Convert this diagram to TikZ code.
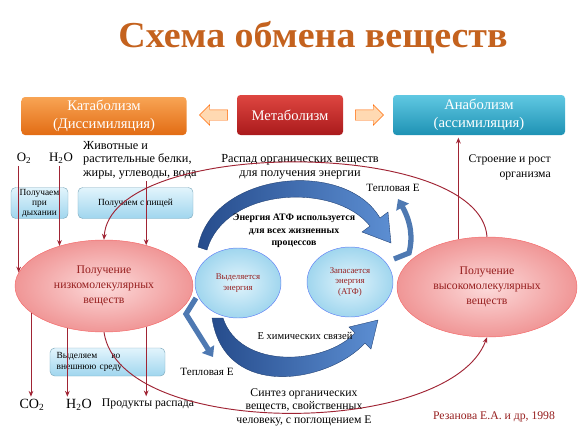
\documentclass[tikz,border=0pt]{standalone}
\usepackage{fontspec}
\setmainfont{Liberation Serif}
\usepackage{tikz}
\usetikzlibrary{shapes.geometric,shapes.arrows,arrows.meta,positioning}
\definecolor{titleor}{RGB}{196,98,30}
\definecolor{katlo}{RGB}{226,108,20}
\definecolor{kathi}{RGB}{248,164,84}
\definecolor{metlo}{RGB}{170,26,28}
\definecolor{methi}{RGB}{222,70,64}
\definecolor{analo}{RGB}{30,146,180}
\definecolor{anahi}{RGB}{96,200,226}
\definecolor{linered}{RGB}{160,36,52}
\definecolor{txtred}{RGB}{150,30,30}
\definecolor{pinkin}{RGB}{252,218,218}
\definecolor{pinkout}{RGB}{240,150,150}
\definecolor{skyin}{RGB}{226,244,252}
\definecolor{skyout}{RGB}{160,214,238}
\definecolor{arcdark}{RGB}{38,76,140}
\definecolor{arclight}{RGB}{92,142,210}

\begin{document}
\begin{tikzpicture}[x=0.03cm,y=-0.03cm,
	topbox/.style={rectangle,rounded corners=3pt,text=white,align=center,font=\fontsize{12.5}{15.5}\selectfont,inner sep=0pt},
	smallbox/.style={rectangle,rounded corners=4pt,draw=skyout!80!black,top color=skyin,bottom color=skyout,align=center,font=\fontsize{8}{8.6}\selectfont,minimum height=0.93cm,inner sep=1pt},
	bigell/.style={ellipse,draw=pinkout!70!red,inner color=pinkin,outer color=pinkout,text=txtred,align=center,font=\fontsize{10}{12.5}\selectfont,inner sep=0pt},
	smallell/.style={ellipse,draw=skyout!60!blue,inner color=skyin,outer color=skyout,text=txtred,align=center,font=\fontsize{7.5}{9}\selectfont,minimum width=2.58cm,minimum height=2.1cm,inner sep=0pt},
	blockarr/.style={single arrow,draw=orange!80!red,fill=orange!30,minimum height=0.84cm,minimum width=0.6cm,single arrow head extend=0.15cm,inner xsep=0pt,inner ysep=0.15cm},
	lbl/.style={font=\fontsize{10}{12}\selectfont,align=center,inner sep=0pt},
	chem/.style={font=\fontsize{11}{13}\selectfont,inner sep=0pt},
	redarr/.style={draw=linered,line width=0.8pt,-{Stealth[length=5pt,width=4pt]}},
	bluearc/.style={left color=arcdark,right color=arclight,draw=arcdark!80!black,line width=0.3pt},
	hookarr/.style={draw=arclight!85!black,line width=4.5pt,-{Triangle[length=8pt,width=12pt]}}
	]
	\useasboundingbox (0,0) rectangle (585,439);
	% title and the three top boxes
	\node[font=\fontsize{30}{34}\selectfont\bfseries,text=titleor,xscale=1.08,yscale=1.04] (title) at (313,38) {Схема обмена веществ};
	\node[topbox,top color=kathi,bottom color=katlo,minimum width=4.95cm,minimum height=1.14cm] (kat) at (104,116) {Катаболизм\\(Диссимиляция)};
	\node[topbox,top color=methi,bottom color=metlo,minimum width=3.18cm,minimum height=1.2cm] (met) at (290,115) {Метаболизм};
	\node[topbox,top color=anahi,bottom color=analo,minimum width=5.16cm,minimum height=1.2cm] (ana) at (479,115) {Анаболизм\\(ассимиляция)};
	\node[blockarr,shape border rotate=180,left=0.27cm of met] (larr) {};
	\node[blockarr,right=0.36cm of met] (rarr) {};
	% small boxes
	\node[smallbox,minimum width=1.71cm] (breath) at (39.5,203) {Получаем\\при\\дыхании};
	\node[smallbox,minimum width=3.45cm] (food) at (135.5,203) {Получаем с пищей};
	\node[smallbox,minimum width=3.45cm,minimum height=0.84cm,align=left,text width=3.05cm,inner xsep=0.2cm,font=\fontsize{8}{9.5}\selectfont] (out) at (107.5,362) {Выделяем\hspace{1.5em}во\\внешнюю среду};
	% blue arcs
	\path[bluearc] (198,247) .. controls (212,172) and (345,158) .. (380,218) -- (388,212) -- (391,243) -- (362,232) -- (370,226) .. controls (335,182) and (225,187) .. (207,250) -- cycle;
	\path[bluearc] (212,318) .. controls (225,402) and (330,382) .. (365,343) -- (371,349) -- (378,320) -- (349,327) -- (355,333) .. controls (325,365) and (240,370) .. (223,318) -- cycle;
	\draw[hookarr] (394,259) -- (409,253) .. controls (413,238) and (411,222) .. (398,199);
	\draw[hookarr] (196,298) -- (186,314) -- (213,357);
	% ellipses
	\node[bigell,minimum width=5.34cm,minimum height=2.76cm] (lowE) at (104,286) {Получение\\низкомолекулярных\\веществ};
	\node[bigell,minimum width=5.4cm,minimum height=3cm] (hiE) at (487,287) {Получение\\высокомолекулярных\\веществ};
	\node[smallell] (relE) at (238,283) {Выделяется\\энергия};
	\node[smallell] (stoE) at (350,282) {Запасается\\энергия\\(АТФ)};
	% texts
	\node[chem] (otwo) at (24,158) {O\textsubscript{2}};
	\node[chem] (htwoo) at (61,158) {H\textsubscript{2}O};
	\node[lbl,font=\fontsize{10.5}{11.5}\selectfont,align=left,anchor=north west] (foodtxt) at (83,141) {Животные и\\растительные белки,\\жиры, углеводы, вода};
	\node[lbl,font=\fontsize{10.5}{12}\selectfont] (decay) at (300,167) {Распад органических веществ\\для получения энергии};
	\node[lbl,align=right,anchor=north east] (grow) at (551,155) {Строение и рост\\организма};
	\node[lbl,font=\fontsize{9.5}{11}\selectfont] (heattop) at (393,188) {Тепловая Е};
	\node[lbl,font=\fontsize{8.4}{10.5}\selectfont\bfseries] (atp) at (294,231) {Энергия АТФ используется\\для всех жизненных\\процессов};
	\node[lbl,font=\fontsize{9}{11}\selectfont] (chembond) at (305,336) {Е химических связей};
	\node[lbl,font=\fontsize{9.5}{11}\selectfont] (heatbot) at (207,372) {Тепловая Е};
	\node[chem,font=\fontsize{12}{14}\selectfont] (cotwo) at (32,405) {CO\textsubscript{2}};
	\node[chem,font=\fontsize{12}{14}\selectfont] (hbot) at (79,405) {H\textsubscript{2}O};
	\node[lbl] (prod) at (148,404) {Продукты распада};
	\node[lbl,font=\fontsize{10}{11.5}\selectfont] (synth) at (304,407) {Синтез органических\\веществ, свойственных\\человеку, с поглощением Е};
	\node[lbl,text=txtred] (author) at (494,417) {Резанова Е.А. и др, 1998};
	% red connectors
	\draw[redarr,shorten <=2pt] (lowE.171 |- otwo.south) -- (lowE.171);
	\draw[redarr,shorten <=2pt] (lowE.138 |- htwoo.south) -- (lowE.138);
	\draw[redarr,shorten <=2pt] (lowE.44 |- foodtxt.south) -- (lowE.44);
	\draw[redarr,shorten >=2pt] (lowE.200) -- (lowE.200 |- cotwo.north);
	\draw[redarr,shorten >=2pt] (lowE.229) -- (lowE.229 |- hbot.north);
	\draw[redarr,shorten >=2pt] (lowE.316) -- (lowE.316 |- prod.north);
	\draw[redarr,shorten >=2pt] (hiE.121) -- (hiE.121 |- ana.south);
	\draw[redarr] (hiE.north) .. controls (480,137) and (110,137) .. (lowE.north);
	\draw[redarr] (lowE.south) .. controls (120,440) and (450,438) .. (hiE.south);
\end{tikzpicture}
\end{document}
